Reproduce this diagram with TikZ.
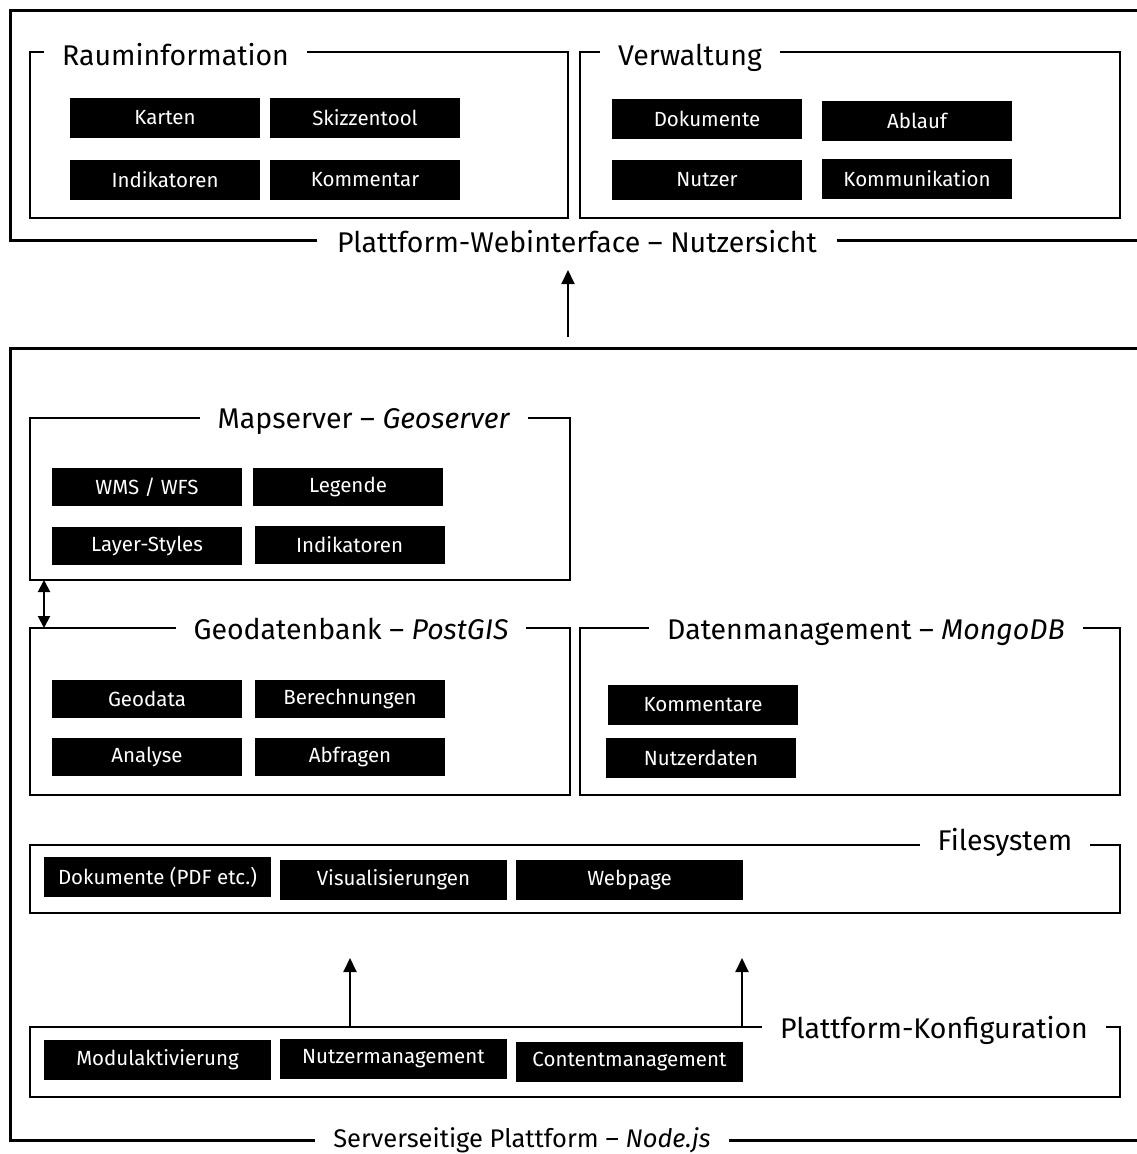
\documentclass[tikz,border=0pt]{standalone}
\usepackage{fontspec}
\setmainfont{Fira Sans}
\usetikzlibrary{arrows.meta,positioning}

\tikzset{
  blk/.style={fill=black,text=white,inner sep=0pt,minimum width=190pt,minimum height=40pt,font=\fontsize{20.5}{24}\selectfont},
  wideblk/.style={blk,minimum width=227pt},
  frame/.style={draw,line width=1.5pt},
  outer/.style={draw,line width=3pt},
  ttl/.style={fill=white,inner xsep=18pt,inner ysep=3pt,anchor=base,font=\fontsize{28.5}{32}\selectfont},
  arr/.style={line width=2pt,-{Triangle[length=14pt,width=13pt]}},
  dblarr/.style={line width=2pt,{Triangle[length=12pt,width=12pt]}-{Triangle[length=12pt,width=12pt]}}
}

\begin{document}
\begin{tikzpicture}[x=1pt,y=-1pt]
\useasboundingbox (0,0) rectangle (1136,1154);

% Nutzersicht
\draw[outer] (1150,10) -- (10,10) -- (10,240) -- (1150,240);
\node[ttl,inner xsep=20pt] (webif) at (577,252) {Plattform-Webinterface -- Nutzersicht};

\draw[frame] (30,52) rectangle (568,218);
\node[ttl,anchor=base west] (rauminfo) at (44,65) {Rauminformation};
\foreach \t/\x/\y in {Karten/165/118,Skizzentool/365/118,Indikatoren/165/180,Kommentar/365/180}
  \node[blk] (R\t) at (\x,\y) {\t};

\draw[frame] (580,52) rectangle (1120,218);
\node[ttl,anchor=base west] (verwaltung) at (600,65) {Verwaltung};
\foreach \t/\x/\y in {Dokumente/707/119,Ablauf/917/121,Nutzer/707/179.5,Kommunikation/917/178.5}
  \node[blk] (V\t) at (\x,\y) {\t};

% Serverseite
\coordinate (up) at (568,337);
\draw[arr] (up) -- ++(0,-67);

\draw[outer] (1150,348) -- (10,348) -- (10,1140) -- (1150,1140);
\node[ttl,inner xsep=18pt,font=\fontsize{25.5}{30}\selectfont] (node) at (522,1147) {Serverseitige Plattform -- \textit{Node.js}};

\draw[frame] (30,418) coordinate (mapNW) rectangle (570,580) coordinate (mapSE);
\node[ttl] (map) at (364,428) {Mapserver -- \textit{Geoserver}};
\node[blk,minimum height=38pt] (MWMS) at (147,487) {WMS / WFS};
\node[blk,minimum height=38pt] (MLeg) at (348,487) {Legende};
\node[blk,minimum height=38pt] (MLay) at (147,546) {Layer-Styles};
\node[blk,minimum height=38pt] (MInd) at (349.5,545) {Indikatoren};

\draw[frame] (30,628) coordinate (geoNW) rectangle (570,795);
\node[ttl] (geo) at (351,639) {Geodatenbank -- \textit{PostGIS}};
\foreach \t/\x/\y in {Geodata/147/699,Berechnungen/350/699,Analyse/147/757,Abfragen/350/757}
  \node[blk,minimum height=38pt] (G\t) at (\x,\y) {\t};

\draw[dblarr] ([xshift=14pt]mapNW |- mapSE) -- ([xshift=14pt]geoNW);

\draw[frame] (580,628) rectangle (1120,795);
\node[ttl] (mongo) at (866,639) {Datenmanagement -- \textit{MongoDB}};
\node[blk] (DKom) at (703,704.5) {Kommentare};
\node[blk] (DNut) at (701,757.5) {Nutzerdaten};

\draw[frame] (30,845) rectangle (1120,913);
\node[ttl] (files) at (1005,850) {Filesystem};
\node[wideblk] (FDok) at (157.5,877) {Dokumente (PDF etc.)};
\node[wideblk] (FVis) at (393.5,880) {Visualisierungen};
\node[wideblk] (FWeb) at (629.5,880) {Webpage};

\draw[frame] (30,1027) rectangle (1120,1097);
\node[ttl] (konfig) at (934,1038) {Plattform-Konfiguration};
\node[wideblk] (KMod) at (157.5,1060) {Modulaktivierung};
\node[wideblk] (KNut) at (393.5,1059) {Nutzermanagement};
\node[wideblk] (KCon) at (629.5,1061.5) {Contentmanagement};

\coordinate (vis) at (350,1027);
\coordinate (web) at (742,1027);
\draw[arr] (vis) -- ++(0,-69);
\draw[arr] (web) -- ++(0,-69);
\end{tikzpicture}
\end{document}
